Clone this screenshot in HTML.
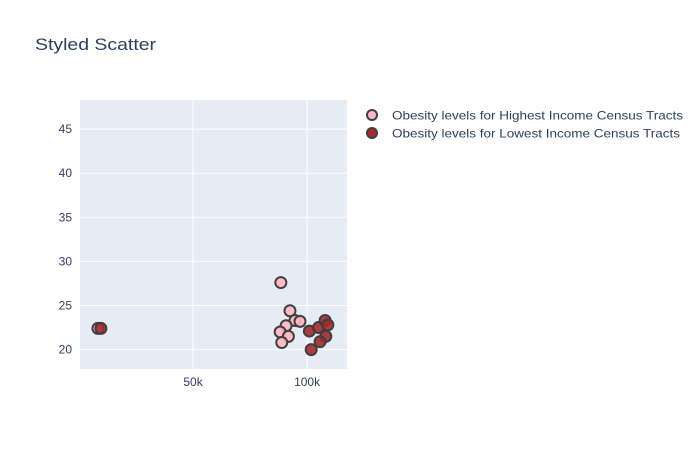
<!DOCTYPE html>
<html><head><meta charset="utf-8"><style>
body{margin:0;background:#fff;font-family:"Liberation Sans",sans-serif}
</style></head><body>
<svg id="chart" width="700" height="450" xmlns="http://www.w3.org/2000/svg" style="display:block">
<rect width="700" height="450" fill="#fff"/>
<text x="35" y="50" font-size="17" fill="#2a3f5f" textLength="121" lengthAdjust="spacingAndGlyphs" font-family="Liberation Sans, sans-serif">Styled Scatter</text>
<rect x="80" y="100" width="267" height="269" fill="#e5ecf6"/>
<g id="grid"></g><g id="marks"></g><g id="axes"></g>
<g>
<circle cx="372" cy="115" r="5" fill="#ffb6c1" stroke="#3f3f3f" stroke-width="2"/>
<text x="392" y="119.5" font-size="12" fill="#2a3f5f" textLength="291" lengthAdjust="spacingAndGlyphs">Obesity levels for Highest Income Census Tracts</text>
<circle cx="372" cy="133" r="5" fill="#a52a2a" stroke="#3f3f3f" stroke-width="2"/>
<text x="392" y="137.5" font-size="12" fill="#2a3f5f" textLength="288" lengthAdjust="spacingAndGlyphs">Obesity levels for Lowest Income Census Tracts</text>
</g>
</svg>
<script>
const highX=[88.5,92.5,94.7,96.9,90.8,88.2,91.8,88.9,8.3];
const highY=[27.6,24.4,23.3,23.2,22.7,22.0,21.5,20.8,22.4];
const lowX=[101.0,105.0,107.9,109.1,108.2,105.7,101.8,9.6];
const lowY=[22.1,22.5,23.3,22.8,21.5,20.9,20.0,22.4];
const yTicks=[20,25,30,35,40,45];
const xTicks=[50,100];
const xTickLabels=["50k","100k"];
const NS="http://www.w3.org/2000/svg";
const X0=80,X1=347,Y0=369,Y1=100;
const xMin=0.44,xMax=117.5,yMin=17.8,yMax=48.3;
const sx=v=>X0+(v-xMin)/(xMax-xMin)*(X1-X0);
const sy=v=>Y0-(v-yMin)/(yMax-yMin)*(Y0-Y1);
function mk(t,a,p){const e=document.createElementNS(NS,t);for(const k in a)e.setAttribute(k,a[k]);p.appendChild(e);return e;}
const grid=document.getElementById('grid'),axes=document.getElementById('axes'),marks=document.getElementById('marks');
yTicks.forEach(v=>{
 const l=mk('line',{x1:X0,x2:X1,y1:sy(v),y2:sy(v),stroke:'#fff','stroke-width':1},grid);
 
 
 const t=mk('text',{x:X0-8,y:sy(v)+4,'text-anchor':'end','font-size':12,fill:'#2a3f5f'},axes);
 t.textContent=v;
 
 
});
xTicks.forEach((v,i)=>{
 const l=mk('line',{x1:sx(v),x2:sx(v),y1:Y1,y2:Y0,stroke:'#fff','stroke-width':1},grid);
 
 
 const t=mk('text',{x:sx(v),y:Y0+17,'text-anchor':'middle','font-size':12,fill:'#2a3f5f'},axes);
 t.textContent=xTickLabels[i];
 
 
});
function series(xs,ys,fill,name){
 xs.forEach((x,i)=>{
  const c=mk('circle',{cx:sx(x),cy:sy(ys[i]),r:5.5,fill:fill,stroke:'#3f3f3f','stroke-width':2,'fill-opacity':0.9},marks);
  
  
 });
}
series(highX,highY,'#ffb6c1','point-highest-income');
series(lowX,lowY,'#a52a2a','point-lowest-income');
</script>
</body></html>
